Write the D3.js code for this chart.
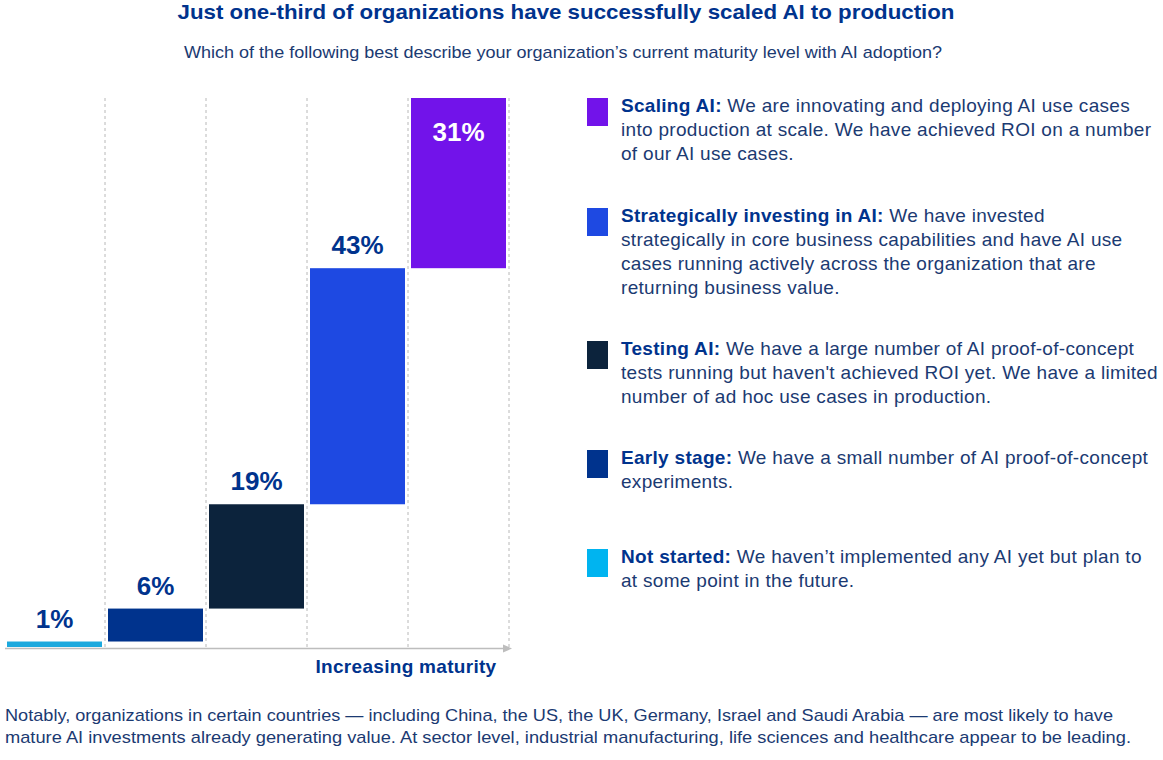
<!DOCTYPE html>
<html><head><meta charset="utf-8">
<script src="https://cdn.jsdelivr.net/npm/d3@7"></script>
<style>
body{margin:0;background:#fff;}
svg{display:block;}
</style></head>
<body>
<script>
// ---- data ----
const categories = ["Not started","Early stage","Testing AI","Strategically investing in AI","Scaling AI"];
const values = [1, 6, 19, 43, 31];
const labels = ["1%","6%","19%","43%","31%"];
const barColors = ["#1CA9DE","#00338D","#0C233C","#1E49E2","#7213EA"];
const legendOrder = ["Scaling AI","Strategically investing in AI","Testing AI","Early stage","Not started"];
const legendColors = ["#7213EA","#1E49E2","#0C233C","#00338D","#00B4F0"];
const legendLines = [
  ["We are innovating and deploying AI use cases","into production at scale. We have achieved ROI on a number","of our AI use cases."],
  ["We have invested","strategically in core business capabilities and have AI use","cases running actively across the organization that are","returning business value."],
  ["We have a large number of AI proof-of-concept","tests running but haven't achieved ROI yet. We have a limited","number of ad hoc use cases in production."],
  ["We have a small number of AI proof-of-concept","experiments."],
  ["We haven\u2019t implemented any AI yet but plan to","at some point in the future."]
];
const title = "Just one-third of organizations have successfully scaled AI to production";
const subtitle = "Which of the following best describe your organization\u2019s current maturity level with AI adoption?";
const axisLabel = "Increasing maturity";
const footer = [
  "Notably, organizations in certain countries \u2014 including China, the US, the UK, Germany, Israel and Saudi Arabia \u2014 are most likely to have",
  "mature AI investments already generating value. At sector level, industrial manufacturing, life sciences and healthcare appear to be leading."
];

// ---- layout ----
const W = 1163, H = 760;
const navy = "#00338D", textCol = "#1B3A72";
const svg = d3.select("body").append("svg").attr("width", W).attr("height", H);

function fit(sel, w){ sel.attr("textLength", w).attr("lengthAdjust","spacingAndGlyphs"); }

svg.append("text").attr("x", 566).attr("y", 19).attr("text-anchor","middle")
  .attr("font-family","'Liberation Sans Narrow','Liberation Sans',Arial,sans-serif").attr("font-weight","bold")
  .attr("font-size", 21).attr("fill", navy).text(title).call(fit, 777);
svg.append("text").attr("x", 563).attr("y", 58).attr("text-anchor","middle")
  .attr("font-family","'Liberation Sans Narrow','Liberation Sans',Arial,sans-serif")
  .attr("font-size", 17).attr("fill", textCol).text(subtitle).call(fit, 758);

// scales
const x = d3.scaleBand().domain(categories).range([4, 509]).padding(0);
const y = d3.scaleLinear().domain([0, 100]).range([647, 98]);
const cum = []; values.reduce((a, v, i) => { cum[i] = [a, a + v]; return a + v; }, 0);
const inset = 3;

// gridlines
svg.append("g").selectAll("line").data(categories).join("line")
  .attr("x1", d => x(d) + x.bandwidth()).attr("x2", d => x(d) + x.bandwidth())
  .attr("y1", y(100)).attr("y2", y(0))
  .attr("stroke", "#b8b8b8").attr("stroke-width", 1).attr("stroke-dasharray", "3,3");

// bars
svg.append("g").selectAll("rect").data(categories).join("rect")
  .attr("x", d => x(d) + inset).attr("width", x.bandwidth() - 2 * inset)
  .attr("y", (d, i) => y(cum[i][1])).attr("height", (d, i) => y(cum[i][0]) - y(cum[i][1]))
  .attr("fill", (d, i) => barColors[i]);

// axis line with arrow
svg.append("line").attr("x1", 5).attr("x2", 506).attr("y1", y(0) + 1.5).attr("y2", y(0) + 1.5)
  .attr("stroke", "#bdbdbd").attr("stroke-width", 1.5);
svg.append("path").attr("d", `M512,${y(0)+1.5} L503,${y(0)-2.5} L503,${y(0)+5.5} Z`).attr("fill", "#bdbdbd");

// value labels
svg.append("g").selectAll("text").data(categories).join("text")
  .attr("x", d => x(d) + x.bandwidth() / 2)
  .attr("y", (d, i) => i === 4 ? y(cum[i][1]) + 43 : y(cum[i][1]) - 14)
  .attr("text-anchor", "middle")
  .attr("font-family", "'Liberation Sans',Arial,sans-serif").attr("font-weight", "bold")
  .attr("font-size", 26).attr("fill", (d, i) => i === 4 ? "#ffffff" : navy)
  .text((d, i) => labels[i]);

svg.append("text").attr("x", 406).attr("y", 673).attr("text-anchor", "middle")
  .attr("font-family", "'Liberation Sans',Arial,sans-serif").attr("font-weight", "bold")
  .attr("font-size", 19).attr("letter-spacing", 0.3).attr("fill", navy).text(axisLabel);

// legend
const legTops = [98, 208, 341, 450, 549];
const lineH = 24;
legendOrder.forEach((name, i) => {
  const g = svg.append("g");
  g.append("rect").attr("x", 587).attr("y", legTops[i]).attr("width", 21).attr("height", 28).attr("fill", legendColors[i]);
  legendLines[i].forEach((ln, j) => {
    const t = g.append("text").attr("x", 621).attr("y", legTops[i] + 14 + j * lineH)
      .attr("font-family", "'Liberation Sans',Arial,sans-serif").attr("font-size", 19)
      .attr("letter-spacing", 0.3).attr("fill", textCol);
    if (j === 0) {
      t.append("tspan").attr("font-weight", "bold").attr("fill", navy).text(name + ":");
      t.append("tspan").text(" " + ln);
    } else t.text(ln);
  });
});

// footer
footer.forEach((ln, i) => {
  svg.append("text").attr("x", 5).attr("y", 721 + i * 22)
    .attr("font-family", "'Liberation Sans Narrow','Liberation Sans',Arial,sans-serif")
    .attr("font-size", 17).attr("fill", textCol).text(ln).call(fit, i === 0 ? 1108 : 1126);
});
</script>
</body></html>
